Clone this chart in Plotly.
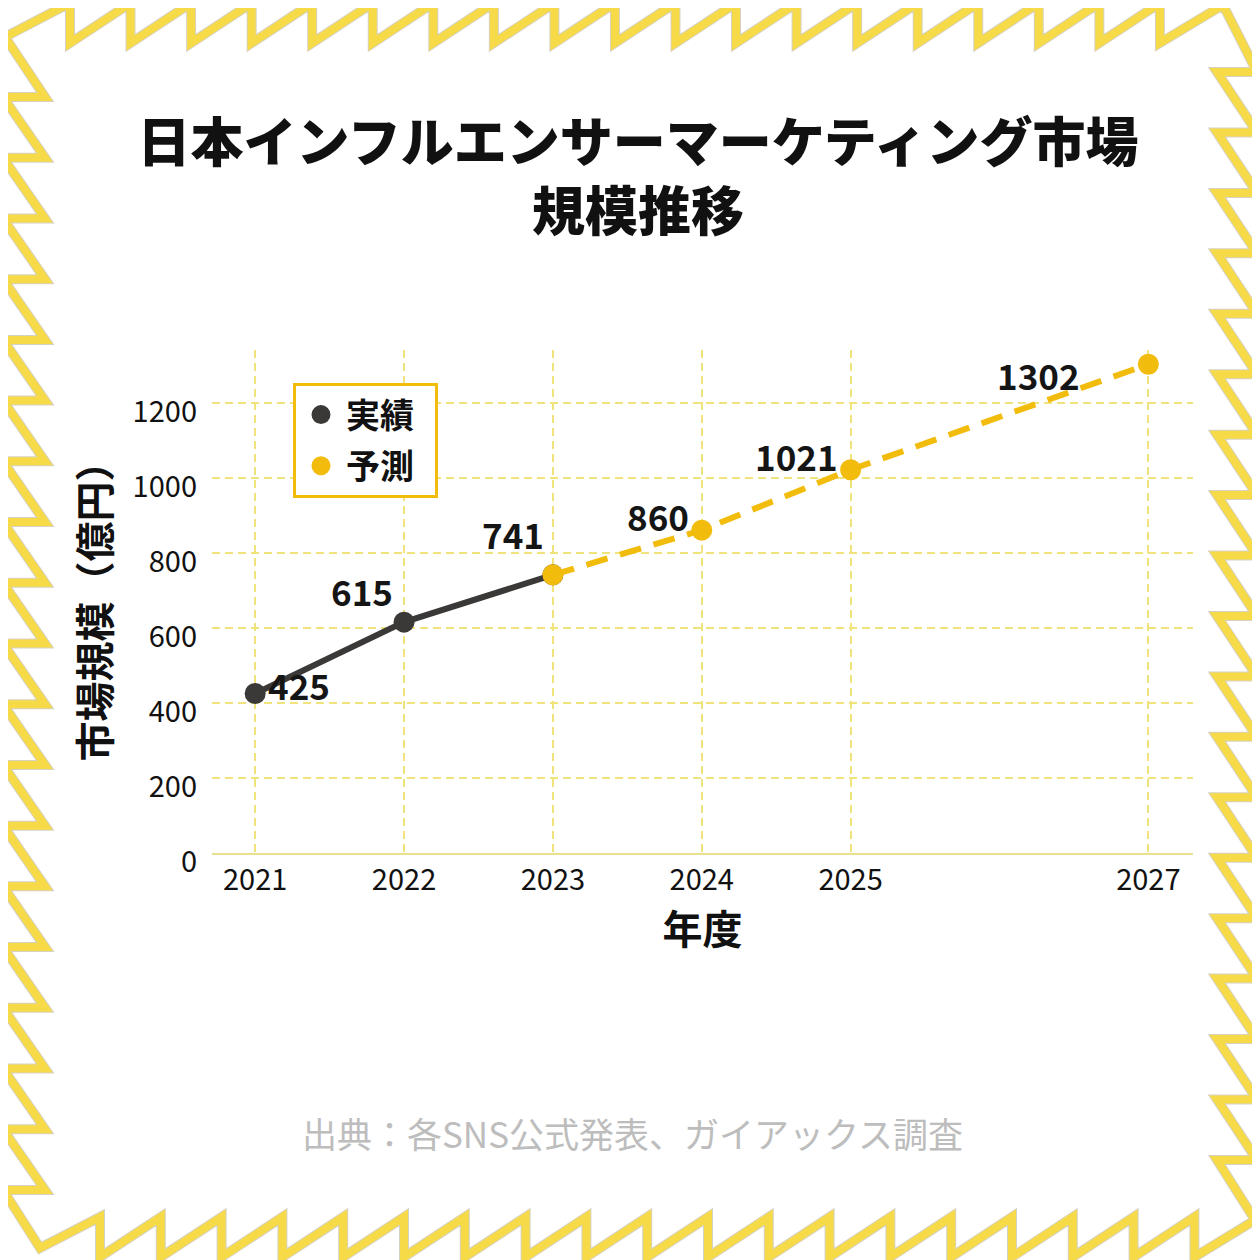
import plotly.graph_objects as go

# 日本インフルエンサーマーケティング市場規模（億円）
years = [2021, 2022, 2023, 2024, 2025, 2027]
market = [425, 615, 741, 860, 1021, 1302]
actual_years = years[:3]
actual_vals = market[:3]
forecast_years = years[2:]
forecast_vals = market[2:]
y_ticks = [0, 200, 400, 600, 800, 1000, 1200]
series_names = ["実績", "予測"]

title_text = "日本インフルエンサーマーケティング市場<br>規模推移"
x_title = "年度"
y_title = "市場規模（億円）"
source_text = "出典：各SNS公式発表、ガイアックス調査"

# label offsets in px (style only)
label_dx = [44, -42, -40, -44, -54, -110]
label_dy = [9, 32, 41, 15, 14, -10]

DARK = "#3B3838"
YEL = "#F2BC0C"
GRID = "#F0E37C"
FONT = "Noto Sans CJK JP"

W = H = 1260
OFF = 8  # page body margin
ML, MR, MT, MB = 212 - OFF, 1260 - 1193 + OFF, 350 - OFF, 1260 - 853 + OFF
PW = W - ML - MR
PH = H - MT - MB


def px2paper(sx, sy):
    fx, fy = sx - OFF, sy - OFF
    return (fx - ML) / PW, (H - MB - fy) / PH


def pp(sx, sy):
    x, y = px2paper(sx, sy)
    return f"{x:.5f},{y:.5f}"


# zigzag frame (screen pixel coords)
pts = [(5, 37)]
for i in range(19):
    x = 70 + i * 60.55
    pts += [(x, 3), (x, 43)]
pts.append((1223, 5))
for j in range(19):
    y = 72 + j * 60.44
    pts += [(1257, y), (1217, y)]
pts.append((1255, 1220))
for k in reversed(range(19)):
    x = 100 + k * 60.8
    pts += [(x, 1257), (x, 1217)]
pts.append((40, 1248))
for j in reversed(range(19)):
    y = 97 + j * 60.72
    pts += [(3, y), (45, y)]
frame_path = "M " + " L ".join(pp(x, y) for x, y in pts) + " Z"

fig = go.Figure()

fig.add_trace(go.Scatter(
    x=actual_years, y=actual_vals, mode="lines+markers",
    line=dict(color=DARK, width=6), marker=dict(size=21, color=DARK),
    showlegend=False, hoverinfo="skip"))
fig.add_trace(go.Scatter(
    x=forecast_years, y=forecast_vals, mode="lines+markers",
    line=dict(color=YEL, width=6, dash="22px,13px"),
    marker=dict(size=21, color=YEL),
    showlegend=False, hoverinfo="skip"))

for name, col in zip(series_names, [DARK, YEL]):
    fig.add_trace(go.Scatter(
        x=[None], y=[None], mode="markers", name=name + "\u00a0\u00a0",
        legendgroup=name,
        marker=dict(size=20, color=col, line=dict(color=col, width=3))))

for x, y, dx, dy in zip(years, market, label_dx, label_dy):
    fig.add_annotation(x=x, y=y, text=str(y), showarrow=False,
                       xshift=dx, yshift=dy,
                       font=dict(family=FONT, size=35, color="#151515", weight="bold"))

sx, sy = px2paper(632, 1132)
fig.add_annotation(xref="paper", yref="paper", x=sx, y=sy,
                   xanchor="center", yanchor="middle",
                   text=source_text, showarrow=False,
                   font=dict(family=FONT, size=35, color="#BDBDBD"))

fig.add_shape(type="path", xref="paper", yref="paper", path=frame_path,
              line=dict(color="#D6D2C2", width=10), layer="above")
fig.add_shape(type="path", xref="paper", yref="paper", path=frame_path,
              line=dict(color="#F6DA48", width=8), layer="above")

lx, ly = px2paper(293, 383)
fig.update_layout(
    width=W, height=H,
    margin=dict(l=ML, r=MR, t=MT, b=MB),
    paper_bgcolor="white", plot_bgcolor="white",
    font=dict(family=FONT, color="#111"),
    title=dict(text=title_text, x=0.5, xref="container", xanchor="center",
               y=1 - 154 / H, yref="container", yanchor="middle",
               font=dict(family=FONT, size=53, color="#111", weight=900)),
    legend=dict(x=lx, y=ly, xanchor="left", yanchor="top",
                bgcolor="white", bordercolor=YEL, borderwidth=3,
                traceorder="grouped", tracegroupgap=4, itemwidth=40,
                font=dict(family=FONT, size=34, color="#111", weight="bold")),
    xaxis=dict(range=[2020.71, 2027.3], tickvals=years,
               showgrid=True, gridcolor=GRID, gridwidth=2, griddash="8px,5px",
               showline=True, linecolor="#EADF8C", linewidth=2,
               zeroline=False, ticks="",
               tickfont=dict(family=FONT, size=29, color="#111"),
               title=dict(text=x_title, standoff=16,
                          font=dict(family=FONT, size=40, color="#111", weight="bold"))),
    yaxis=dict(range=[0, 1340], tickvals=y_ticks,
               showgrid=True, gridcolor=GRID, gridwidth=2, griddash="8px,5px",
               showline=False, zeroline=False, ticks="",
               ticklabelstandoff=14, ticklabelshift=9,
               tickfont=dict(family=FONT, size=29, color="#111"),
               title=dict(text=y_title, standoff=9,
                          font=dict(family=FONT, size=40, color="#111", weight="bold"))),
)

fig.write_html("out.html")
